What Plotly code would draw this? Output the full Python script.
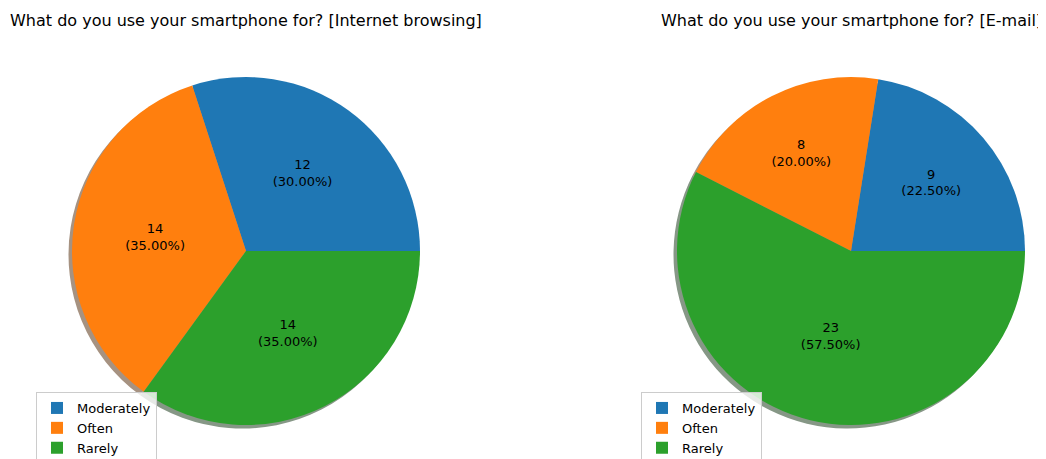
import plotly.graph_objects as go

categories = ["Moderately", "Often", "Rarely"]
internet_values = [12, 14, 14]
email_values = [9, 8, 23]
titles = ["What do you use your smartphone for? [Internet browsing]",
          "What do you use your smartphone for? [E-mail]"]
colors = ["#1f77b4", "#ff7f0e", "#2ca02c"]
shadow_colors = ["rgb(132,145,154)", "rgb(166,146,129)", "rgb(134,151,134)"]

# page body has an 8px margin: lay out in window pixels, then convert
OFF = 8
W, H = 1046 - OFF, 459 - OFF
R = 174
centers = [(246, 251), (851, 251)]
shadow_off = 3.5


def px_x(x):
    return (x - OFF) / W


def px_y(y):
    return 1 - (y - OFF) / H


def dom(cx, cy, dx=0, dy=0):
    return dict(x=[px_x(cx - R + dx), px_x(cx + R + dx)],
                y=[px_y(cy + R + dy), px_y(cy - R + dy)])


fig = go.Figure()
for i, vals in enumerate([internet_values, email_values]):
    cx, cy = centers[i]
    labs = categories if i == 0 else [c + "\u200b" for c in categories]
    # matplotlib startangle=0, counterclockwise: first wedge begins at 3 o'clock
    rot = 90 - 360 * vals[0] / sum(vals)
    fig.add_trace(go.Pie(
        labels=labs, values=vals, sort=False, direction="counterclockwise",
        rotation=rot, domain=dom(cx, cy, -shadow_off, shadow_off),
        marker=dict(colors=shadow_colors, line=dict(width=0)),
        textinfo="none", showlegend=False, hoverinfo="skip"))
    fig.add_trace(go.Pie(
        labels=labs, values=vals, sort=False, direction="counterclockwise",
        rotation=rot, domain=dom(cx, cy),
        marker=dict(colors=colors, line=dict(width=0)),
        texttemplate="%{value}<br>(%{percent:.2%})",
        textposition="inside", insidetextorientation="horizontal",
        textfont=dict(color="black", size=13, family="DejaVu Sans"),
        legend="legend" if i == 0 else "legend2", showlegend=True))
    fig.add_annotation(text=titles[i], x=px_x(cx), y=px_y(20), xref="paper", yref="paper",
                       xanchor="center", yanchor="middle", showarrow=False,
                       font=dict(size=16, color="black", family="DejaVu Sans"))

leg_common = dict(bgcolor="rgba(255,255,255,0.8)", bordercolor="#cccccc", borderwidth=1,
                  font=dict(size=13, color="black", family="DejaVu Sans"),
                  xanchor="left", yanchor="top", tracegroupgap=0, itemsizing="constant")
fig.update_layout(
    width=W, height=H, margin=dict(l=0, r=0, t=0, b=0, autoexpand=False),
    paper_bgcolor="white", plot_bgcolor="white",
    legend=dict(x=px_x(36), y=px_y(392), **leg_common),
    legend2=dict(x=px_x(641), y=px_y(392), **leg_common),
)
fig.write_html("out.html")
